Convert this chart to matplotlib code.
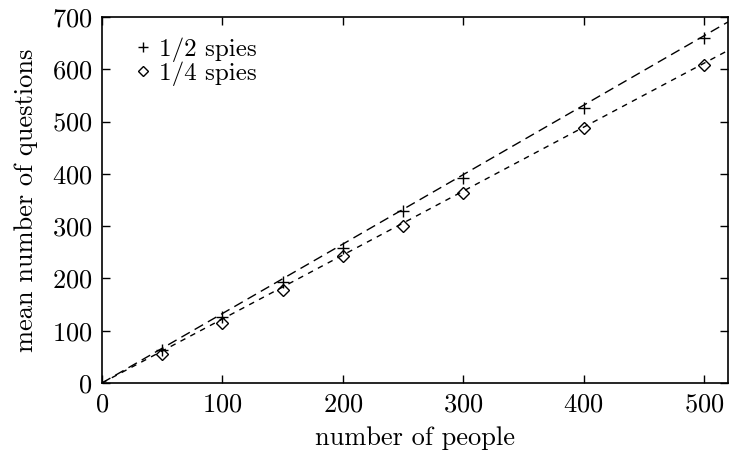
import matplotlib
matplotlib.use("Agg")
import numpy as np
import matplotlib.pyplot as plt

plt.rcParams["font.family"] = "cmr10"
plt.rcParams["axes.formatter.use_mathtext"] = True
plt.rcParams["mathtext.fontset"] = "cm"

# Data
people = [50, 100, 150, 200, 250, 300, 400, 500]
half_spies = [63, 127, 194, 259, 328, 393, 525, 660]
quarter_spies = [55, 115, 177, 242, 300, 364, 488, 609]

# Slopes of the fitted dashed lines
half_slope = 1.328
quarter_slope = 1.223

x_max = 520
y_max = 700
fs = 19

fig = plt.figure(figsize=(7.3, 4.57), dpi=100)
ax = fig.add_axes([0.1397, 0.162, 0.8576, 0.8008])

fit_x = np.array([0, x_max])
ax.plot(fit_x, half_slope * fit_x, color="black", lw=1.0, dashes=(7, 4))
ax.plot(fit_x, quarter_slope * fit_x, color="black", lw=1.0, dashes=(4, 4))

ax.plot(people, half_spies, linestyle="none", marker="+", ms=9, mew=1.0,
        color="black", label="1/2 spies")
ax.plot(people, quarter_spies, linestyle="none", marker="D", ms=6.5, mew=1.0,
        mfc="none", color="black", label="1/4 spies")

ax.set_xlim(0, x_max)
ax.set_ylim(0, y_max)
ax.set_xticks(range(0, 501, 100))
ax.set_yticks(range(0, 701, 100))
ax.tick_params(direction="in", length=6, width=1.0, top=True, right=True,
               labelsize=fs, pad=7)
for s in ax.spines.values():
    s.set_linewidth(1.2)

ax.set_xlabel("number of people", fontsize=fs, labelpad=7)
ax.set_ylabel("mean number of questions", fontsize=fs, labelpad=10)

ax.legend(loc="upper left", bbox_to_anchor=(0.02, 1.0), frameon=False,
          fontsize=18, handlelength=0.64, handletextpad=0.32,
          borderaxespad=0, labelspacing=0.0, borderpad=0.8, markerscale=0.85)

fig.savefig("out.png", dpi=100)
